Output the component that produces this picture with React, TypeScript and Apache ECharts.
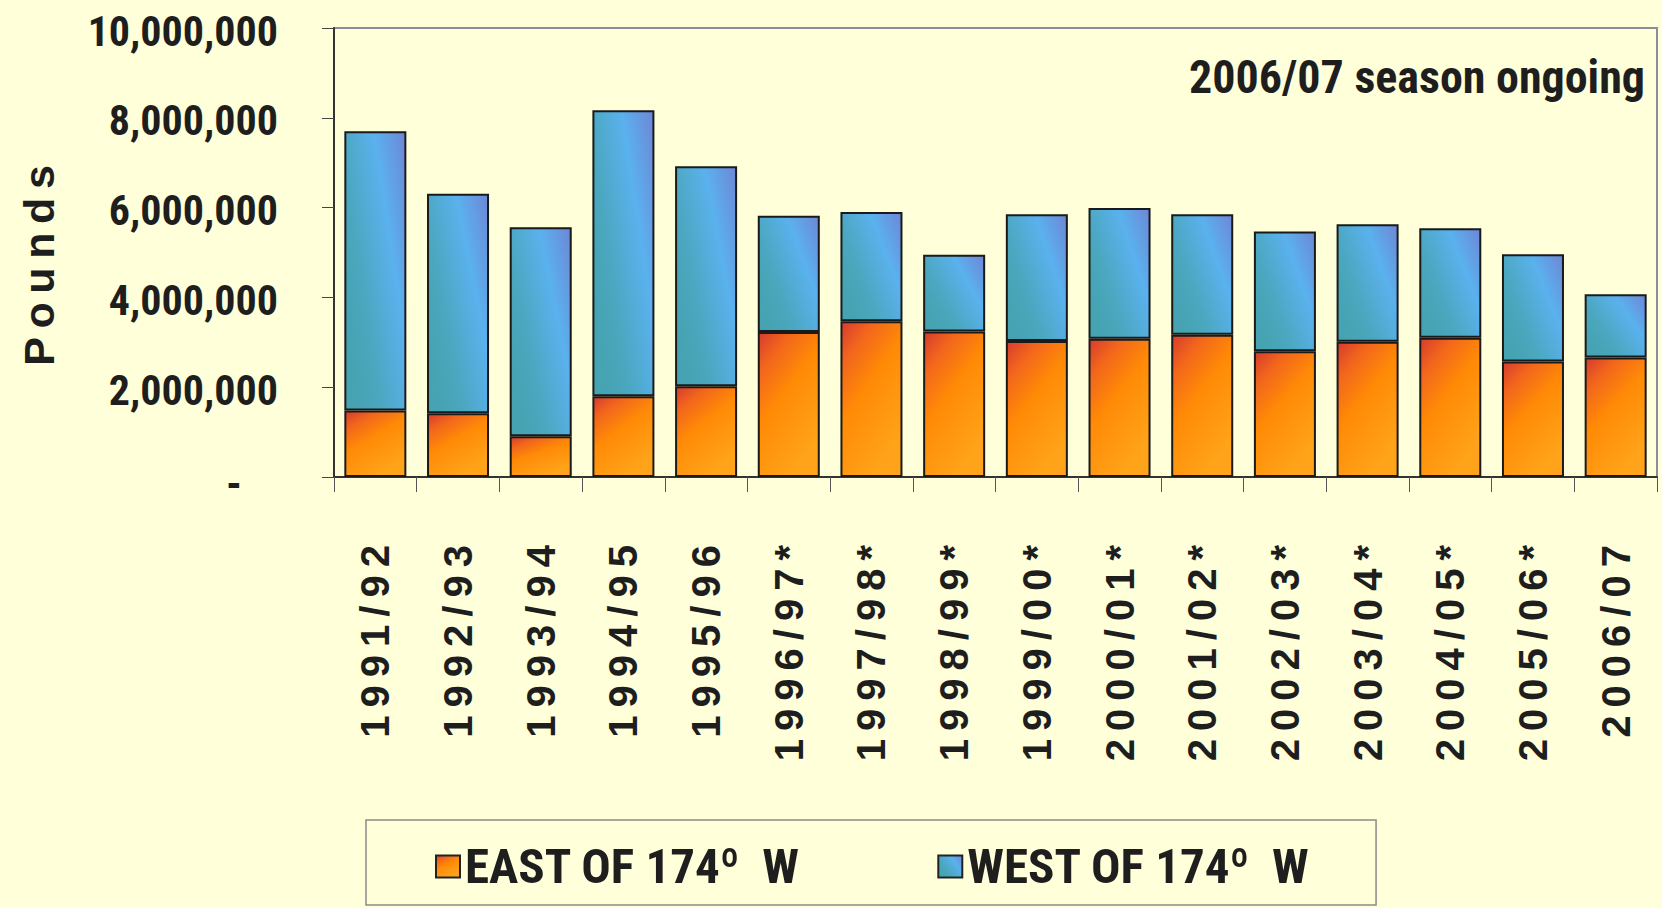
import React, { useEffect, useRef } from "react";
import * as echarts from "echarts";

// Seasons on the category axis (asterisked seasons carry a footnote)
const seasons = [
  "1991/92", "1992/93", "1993/94", "1994/95", "1995/96",
  "1996/97*", "1997/98*", "1998/99*", "1999/00*", "2000/01*",
  "2001/02*", "2002/03*", "2003/04*", "2004/05*", "2005/06*", "2006/07",
];

// Landings east of 174° W, in pounds
const eastPounds = [
  1480000, 1420000, 910000, 1800000, 2020000,
  3230000, 3470000, 3240000, 3030000, 3080000,
  3170000, 2800000, 3010000, 3100000, 2570000, 2660000,
];

// Landings west of 174° W, in pounds
const westPounds = [
  6220000, 4890000, 4650000, 6370000, 4900000,
  2590000, 2430000, 1710000, 2820000, 2910000,
  2680000, 2670000, 2620000, 2440000, 2390000, 1410000,
];

const seriesNames = ["EAST OF 174º\u00a0\u00a0W", "WEST OF 174º\u00a0\u00a0W"];
const yMax = 10000000;
const yStep = 2000000;
const note = "2006/07 season ongoing";
const axisTitle = "Pounds";

const NARROW = '"Roboto Condensed", "Open Sans Condensed", "DejaVu Sans Condensed", sans-serif';
const WIDE = '"Liberation Sans", Arial, "DejaVu Sans", sans-serif';
const INK = "#1e1e1e";
const BG = "#FFFFDA";

const orangeFill = new echarts.graphic.LinearGradient(0, 0, 0.55, 1, [
  { offset: 0, color: "#D63B2E" },
  { offset: 0.22, color: "#F2661C" },
  { offset: 0.5, color: "#FF8A06" },
  { offset: 1, color: "#FFA41A" },
]);

const blueFill = new echarts.graphic.LinearGradient(1, 0, 0, 0.7, [
  { offset: 0, color: "#6E86D6" },
  { offset: 0.35, color: "#5AB1EE" },
  { offset: 0.75, color: "#4AA7BE" },
  { offset: 1, color: "#45A3B2" },
]);

const spaced = (s: string, sep: string) => s.split("").join(sep);

export default function App() {
  const ref = useRef<HTMLDivElement>(null);

  useEffect(() => {
    if (!ref.current) return;
    const chart = echarts.init(ref.current, null, { renderer: "svg" });

    chart.setOption({
      animation: false,
      backgroundColor: BG,
      grid: {
        left: 334,
        right: 5,
        top: 28,
        bottom: 431,
        show: true,
        borderColor: "#8C8C9C",
        borderWidth: 2,
        outerBoundsMode: "none",
      },
      legend: {
        left: 366,
        top: 820,
        padding: [22, 66, 14, 69],
        itemGap: 137,
        itemWidth: 24,
        itemHeight: 22,
        borderColor: "#8A8A8A",
        borderWidth: 1.5,
        icon: "rect",
        selectedMode: false,
        itemStyle: { borderColor: "#222", borderWidth: 2 },
        textStyle: { fontFamily: NARROW, fontWeight: "bold", fontSize: 49, color: INK },
        data: seriesNames,
      },
      xAxis: {
        type: "category",
        data: seasons,
        axisLine: { show: true, lineStyle: { color: "#333", width: 2 } },
        axisTick: { show: true, length: 15, lineStyle: { color: "#555", width: 1 } },
        axisLabel: {
          rotate: 90,
          margin: 68,
          interval: 0,
          fontFamily: WIDE,
          fontWeight: "bold",
          fontSize: 40,
          color: INK,
          formatter: (v: string) => spaced(v, "\u2009"),
        },
      },
      yAxis: {
        type: "value",
        min: 0,
        max: yMax,
        interval: yStep,
        name: spaced(axisTitle, "\u2009"),
        nameLocation: "middle",
        nameRotate: 90,
        nameGap: 274,
        nameMoveOverlap: false,
        nameTextStyle: {
          fontFamily: WIDE,
          fontWeight: "bold",
          fontSize: 43,
          color: INK,
          padding: [0, 26, 0, 0],
        },
        splitLine: { show: false },
        axisLine: { show: true, lineStyle: { color: "#333", width: 2 } },
        axisTick: { show: true, length: 12, lineStyle: { color: "#444", width: 1 } },
        axisLabel: {
          margin: 56,
          fontFamily: NARROW,
          fontWeight: "bold",
          fontSize: 42,
          color: INK,
          padding: [6, 0, 0, 0],
          formatter: (v: number) => (v === 0 ? "{z|-}" : v.toLocaleString("en-US")),
          rich: {
            z: { fontFamily: NARROW, fontWeight: "bold", fontSize: 44, color: INK, padding: [8, 36, 0, 0] },
          },
        },
      },
      graphic: [
        {
          type: "text",
          x: 1645,
          y: 77,
          style: {
            text: note,
            fontFamily: NARROW,
            fontWeight: "bold",
            fontSize: 46,
            fill: INK,
            align: "right",
            verticalAlign: "middle",
          },
        },
      ],
      series: [
        {
          name: seriesNames[0],
          type: "bar",
          stack: "catch",
          data: eastPounds,
          barCategoryGap: "25%",
          itemStyle: { color: orangeFill, borderColor: "#1a1a1a", borderWidth: 2 },
        },
        {
          name: seriesNames[1],
          type: "bar",
          stack: "catch",
          data: westPounds,
          barCategoryGap: "25%",
          itemStyle: { color: blueFill, borderColor: "#1a1a1a", borderWidth: 2 },
        },
      ],
    });

    return () => chart.dispose();
  }, []);

  return <div ref={ref} style={{ position: "absolute", left: 0, top: 0, width: 1662, height: 908 }} />;
}
